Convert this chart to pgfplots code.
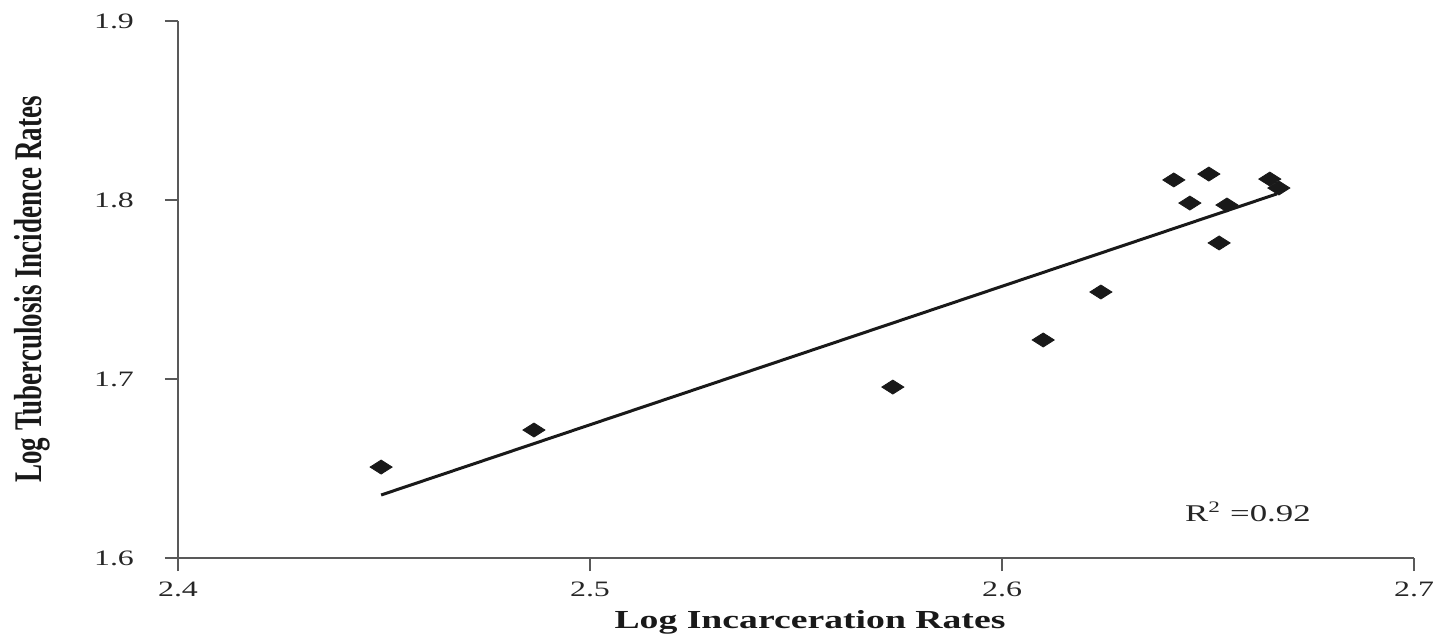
\documentclass[border=0pt]{standalone}
\usepackage{fontspec}
\setmainfont{Liberation Serif}
\usepackage{graphicx}
\usepackage{pgfplots}
\pgfplotsset{compat=1.18}

% the original figure is stretched sideways
\newcommand{\wide}[1]{\scalebox{1.45}[1]{#1}}
\newcommand{\num}[1]{\pgfmathprintnumber[fixed,precision=1,fixed zerofill,assume math mode=true]{#1}}

\begin{document}
\begin{tikzpicture}
\begin{axis}[
  name=ax,
  scale only axis,
  width=618pt,
  height=268.5pt,
  xmin=2.4, xmax=2.7,
  ymin=1.6, ymax=1.9,
  xtick={2.4,2.5,2.6,2.7},
  ytick={1.6,1.7,1.8,1.9},
  xticklabel={\wide{\num{\tick}}},
  yticklabel={\wide{\num{\tick}}},
  axis x line*=bottom,
  axis y line*=left,
  axis line style={black!65, line width=1.2pt},
  tick style={black!65, line width=1.2pt},
  tick align=outside,
  major tick length=6.5pt,
  ticklabel style={font=\fontsize{11}{13}\selectfont, text=black!85},
  xticklabel style={yshift=-2pt},
  yticklabel style={xshift=-12pt},
  xlabel={\wide{\textbf{Log Incarceration Rates}}},
  ylabel={\scalebox{1}[1.45]{\textbf{Log Tuberculosis Incidence Rates}}},
  every axis x label/.style={at={(axis description cs:0.5,0)}, yshift=-32pt, xshift=7pt, anchor=center,
    font=\fontsize{13}{15}\selectfont, text=black!90},
  every axis y label/.style={at={(axis description cs:0,0.5)}, xshift=-73pt, rotate=90, anchor=center,
    font=\fontsize{13.5}{15}\selectfont, text=black!90},
  clip=false,
]
% observed points
\addplot[only marks, mark=diamond*, mark size=3.5pt,
  mark options={xscale=2.1, fill=black!90, draw=black!90}] coordinates {
  (2.4493,1.6508)
  (2.4864,1.6715)
  (2.5735,1.6955)
  (2.6100,1.7218)
  (2.6240,1.7486)
  (2.6417,1.8112)
  (2.6456,1.7983)
  (2.6502,1.8145)
  (2.6527,1.7760)
  (2.6546,1.7972)
  (2.6650,1.8117)
  (2.6672,1.8067)
};
% fitted line
\addplot[black!90, line width=1.5pt] coordinates {
  (2.4493,1.6352)
  (2.6667,1.8034)
};
\node[font=\fontsize{12}{14}\selectfont, text=black!85] at (axis cs:2.6597,1.6257) {\wide{R\textsuperscript{2} =0.92}};
\end{axis}
\pgfresetboundingbox
\path ([xshift=-89pt,yshift=-39.5pt]ax.south west) rectangle ([xshift=11.5pt,yshift=10.5pt]ax.north east);
\end{tikzpicture}
\end{document}
